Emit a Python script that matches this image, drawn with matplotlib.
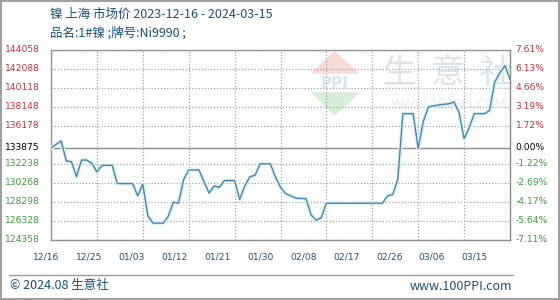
import matplotlib
matplotlib.use("Agg")
import matplotlib.pyplot as plt
from matplotlib.patches import Polygon
import pandas as pd

# Data (vertices of the price line)
dates = ["2023-12-16", "2023-12-17", "2023-12-18", "2023-12-19", "2023-12-20",
         "2023-12-21", "2023-12-22", "2023-12-23", "2023-12-24", "2023-12-25",
         "2023-12-26", "2023-12-28", "2023-12-29", "2024-01-01", "2024-01-02",
         "2024-01-03", "2024-01-04", "2024-01-05", "2024-01-07", "2024-01-08",
         "2024-01-09", "2024-01-10", "2024-01-11", "2024-01-12", "2024-01-14",
         "2024-01-16", "2024-01-17", "2024-01-18", "2024-01-19", "2024-01-21",
         "2024-01-22", "2024-01-23", "2024-01-24", "2024-01-25", "2024-01-26",
         "2024-01-28", "2024-01-29", "2024-01-30", "2024-01-31", "2024-02-01",
         "2024-02-02", "2024-02-04", "2024-02-05", "2024-02-06", "2024-02-07",
         "2024-02-08", "2024-02-19", "2024-02-20", "2024-02-21", "2024-02-22",
         "2024-02-23", "2024-02-25", "2024-02-26", "2024-02-27", "2024-02-28",
         "2024-03-01", "2024-03-03", "2024-03-04", "2024-03-05", "2024-03-06",
         "2024-03-07", "2024-03-08", "2024-03-10", "2024-03-11", "2024-03-12",
         "2024-03-13", "2024-03-14", "2024-03-15"]
prices = [133875, 134249, 134590, 132527, 132465,
          130918, 132630, 132630, 132290, 131392,
          132083, 132083, 130196, 130196, 128917,
          130124, 126854, 126101, 126101, 126823,
          128267, 128164, 130588, 131599, 131599,
          129216, 129948, 129814, 130505, 130505,
          128546, 129948, 130897, 131052, 132238,
          132238, 130897, 129814, 129144, 128938,
          128680, 128630, 126957, 126411, 126669,
          128164, 128164, 128917, 129041, 130639,
          137426, 137426, 133806, 136622, 138117,
          138323, 138447, 138633, 137550, 134837,
          135972, 137426, 137426, 137756, 140696,
          141624, 142397, 141005]

base_price = 133875
upper_ticks = [144058, 142088, 140118, 138148, 136178]
lower_ticks = [132238, 130268, 128298, 126328, 124358]
date_ticks = ["2023-12-16", "2023-12-25", "2024-01-03", "2024-01-12", "2024-01-21",
              "2024-01-30", "2024-02-08", "2024-02-17", "2024-02-26", "2024-03-06",
              "2024-03-15"]
date_labels = ["12/16", "12/25", "01/03", "01/12", "01/21", "01/30", "02/08",
               "02/17", "02/26", "03/06", "03/15"]

title = "镍 上海 市场价 2023-12-16 - 2024-03-15"
subtitle = "品名:1#镍 ;牌号:Ni9990 ;"

RED = "#c8303c"
GREEN = "#3f9a3f"
BLUE_TEXT = "#1f4f78"
LINE = "#4a84aa"
GRID = "#a4a4a4"
CJK = ["Noto Sans CJK SC", "DejaVu Sans"]

W, H = 560, 300
AX_L, AX_R, AX_T, AX_B = 51, 510, 49.5, 240


def fx(px):
    return px / W


def fy(py):
    return 1 - py / H


def axx(px):
    return (px - AX_L) / (AX_R - AX_L)


def axy(py):
    return (AX_B - py) / (AX_B - AX_T)


def run():
    fig = plt.figure(figsize=(5.6, 3.0), dpi=100)
    fig.patch.set_edgecolor("#a0a0a0")
    fig.patch.set_linewidth(1.5)
    ax = fig.add_axes([fx(AX_L), fy(AX_B), fx(AX_R) - fx(AX_L), fy(AX_T) - fy(AX_B)])

    x = pd.to_datetime(dates)
    xt = pd.to_datetime(date_ticks)

    ax.set_xlim(xt[0], xt[-1])
    ax.set_ylim(lower_ticks[-1], upper_ticks[0])

    # watermark inside the plot area
    ax.add_patch(Polygon([[axx(335), axy(52)], [axx(312), axy(73)], [axx(358), axy(73)]],
                         closed=True, transform=ax.transAxes, color="#f8dada", zorder=0.5))
    ax.add_patch(Polygon([[axx(312), axy(93)], [axx(358), axy(93)], [axx(335), axy(115)]],
                         closed=True, transform=ax.transAxes, color="#d8eed8", zorder=0.5))
    ax.text(axx(335), axy(84), "PPI", transform=ax.transAxes, ha="center", va="center",
            fontsize=11, fontweight="bold", color="#dce4f0", zorder=0.6)
    ax.text(axx(448), axy(73), "生  意  社", transform=ax.transAxes, ha="center",
            va="center", fontsize=24, family=CJK, color="#dfe4ec", zorder=0.6)
    ax.text(axx(448), axy(105), "WWW.100PPI.COM", transform=ax.transAxes, ha="center",
            va="center", fontsize=9, color="#eaedf2", zorder=0.6)

    # dotted grid on the tick positions
    ax.set_xticks(xt)
    ax.set_yticks(upper_ticks + lower_ticks)
    ax.set_axisbelow(False)
    ax.grid(True, color=GRID, ls=(0, (1, 1.5)), lw=0.9, zorder=2)

    ax.hlines([base_price], xt[0], xt[-1], colors="#8c8c8c", lw=1.0, zorder=3)
    # pale halo under the price line, then the line itself
    ax.plot(x, prices, color="#dff2f8", lw=2.8, zorder=3.5, solid_joinstyle="round")
    ax.plot(x, prices, color=LINE, lw=1.0, zorder=4)

    ax.tick_params(length=0, labelbottom=False, labelleft=False)
    for s in ax.spines.values():
        s.set_color("#8c8c8c")
        s.set_linewidth(1.0)

    # left and right labels
    for v in upper_ticks + [base_price] + lower_ticks:
        col = RED if v > base_price else (GREEN if v < base_price else "black")
        pct = (v / base_price - 1) * 100
        ax.annotate(str(v), (0, v), xycoords=("axes fraction", "data"),
                    xytext=(-8, 0), textcoords="offset points",
                    ha="right", va="center", fontsize=6.6, color=col)
        ax.annotate("%.2f%%" % pct, (1, v), xycoords=("axes fraction", "data"),
                    xytext=(4, 0), textcoords="offset points",
                    ha="left", va="center", fontsize=6.6, color=col)

    # date labels sit a bit left of their gridlines, as in the source
    for i, lab in enumerate(date_labels):
        fig.text(fx(46 + i * 42.9), fy(257), lab, ha="center", va="center",
                 fontsize=6.6, color=BLUE_TEXT)

    fig.text(fx(50), fy(14), title, ha="left", va="center", fontsize=9,
             family=CJK, color=BLUE_TEXT)
    fig.text(fx(50), fy(33), subtitle, ha="left", va="center", fontsize=9,
             family=CJK, color=BLUE_TEXT)

    # footer
    fig.add_artist(plt.Line2D([fx(9), fx(513)], [fy(275), fy(275)], color="#9a9a9a", lw=1.0))
    fig.text(fx(10), fy(286), "© 2024.08 生意社", ha="left", va="center", fontsize=9,
             family=CJK, color=BLUE_TEXT)
    fig.text(fx(512), fy(286), "www.100PPI.com", ha="right", va="center", fontsize=9,
             family=CJK, color=BLUE_TEXT)

    fig.savefig("out.png", dpi=100)


if __name__ == '__main__':
    run()
